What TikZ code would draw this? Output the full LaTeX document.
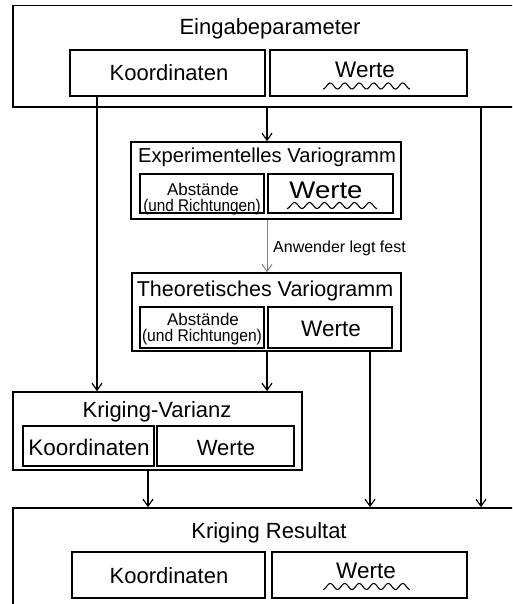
\documentclass[tikz,border=0pt]{standalone}
\usepackage{fontspec}
\setmainfont{Liberation Sans}
\usepackage{graphicx}
\usetikzlibrary{arrows.meta,fit}

\newcommand\fs[1]{\fontsize{#1}{#1}\selectfont}
% wavy underline: x start, x end, centre y, number of humps
\newcommand\wavyline[4]{%
  \draw[wavy] plot[domain=#1:#2, samples=90, smooth]
    (\x, {#3+3*cos((\x-#1)/(#2-#1)*#4*360)});}

\tikzset{
  box/.style={draw, line width=1.6pt, inner sep=0pt},
  txt/.style={inner sep=0pt, anchor=base},
  arr/.style={line width=1.2pt, -{Straight Barb[length=7pt,width=10pt,line width=1.2pt]}},
  garr/.style={line width=1pt, gray, -{Straight Barb[length=7pt,width=10pt,line width=1pt]}},
  wavy/.style={line width=1.1pt},
}

\begin{document}
\begin{tikzpicture}[x=1pt, y=-1pt]
\useasboundingbox (0,0) rectangle (512,604);
\clip (0,0) rectangle (512,604);

% input parameters
\node[box, fit={(13,5.5) (530,107)}] (top) {};
\node[box, fit={(70,50) (265,96)}] (tk) {};
\node[box, fit={(270,50) (467,96)}] (tw) {};
\node[txt, font=\fs{22}] (ttitle) at (270,34.5) {Eingabeparameter};
\node[txt, font=\fs{22}] (tktxt) at (169,81) {Koordinaten};
\node[txt, font=\fs{22.5}] (twtxt) at (365,78) {Werte};
\wavyline{323}{410}{86}{6}

% experimental variogram
\node[box, fit={(131,142) (401,219)}] (exp) {};
\node[box, fit={(140,174) (264,213)}] (ea) {};
\node[box, fit={(268,174) (393,213)}] (ew) {};
\node[txt, font=\fs{20.2}] (etitle) at (267,163) {Experimentelles Variogramm};
\node[txt, font=\fs{17}] (eatxt1) at (203,195) {Abstände};
\node[txt, font=\fs{17}] (eatxt2) at (202,211) {\scalebox{0.9}[1]{(und Richtungen)}};
\node[txt, font=\fs{24}] (ewtxt) at (326,198) {\scalebox{1.15}[1]{Werte}};
\wavyline{287}{377}{205.5}{6}

% theoretical variogram
\node[box, fit={(132,273) (401,351)}] (theo) {};
\node[box, fit={(140,307) (264,348)}] (ta) {};
\node[box, fit={(268,307) (392,348)}] (tv) {};
\node[txt, font=\fs{21.5}] (thtitle) at (265,296) {Theoretisches Variogramm};
\node[txt, font=\fs{17}] (tatxt1) at (203,325) {Abstände};
\node[txt, font=\fs{17}] (tatxt2) at (202,341) {\scalebox{0.92}[1]{(und Richtungen)}};
\node[txt, font=\fs{22.5}] (tvtxt) at (331,336) {Werte};

% kriging variance
\node[box, fit={(13,392) (302,470)}] (kv) {};
\node[box, fit={(23,426) (154,466)}] (kvk) {};
\node[box, fit={(157,426) (294,466)}] (kvw) {};
\node[txt, font=\fs{22}] (kvtitle) at (157,417) {Kriging-Varianz};
\node[txt, font=\fs{22.5}] (kvktxt) at (89,455) {Koordinaten};
\node[txt, font=\fs{22}] (kvwtxt) at (226,455) {Werte};

% kriging result
\node[box, fit={(13,508) (530,625)}] (res) {};
\node[box, fit={(72,552) (265,598)}] (rk) {};
\node[box, fit={(272,552) (467,598)}] (rw) {};
\node[txt, font=\fs{22}] (rtitle) at (269,538) {Kriging Resultat};
\node[txt, font=\fs{22}] (rktxt) at (169,583) {Koordinaten};
\node[txt, font=\fs{22.5}] (rwtxt) at (366,578) {Werte};
\wavyline{323}{410}{586.5}{6}

% connector columns
\coordinate (c97) at (97,0);
\coordinate (c148) at (148,0);
\coordinate (c267) at (267,0);
\coordinate (c370) at (370,0);
\coordinate (c481) at (481,0);

\draw[arr] (tk.south -| c97) -- (kv.north -| c97);
\draw[arr] (top.south -| c267) -- (exp.north -| c267);
\draw[arr] (top.south -| c481) -- (res.north -| c481);
\draw[garr] (exp.south -| c267) -- (theo.north -| c267);
\node[txt, font=\fs{16}, anchor=base west] (user) at (273,252) {Anwender legt fest};
\draw[arr] (theo.south -| c267) -- (kv.north -| c267);
\draw[arr] (theo.south -| c370) -- (res.north -| c370);
\draw[arr] (kv.south -| c148) -- (res.north -| c148);
\end{tikzpicture}
\end{document}
